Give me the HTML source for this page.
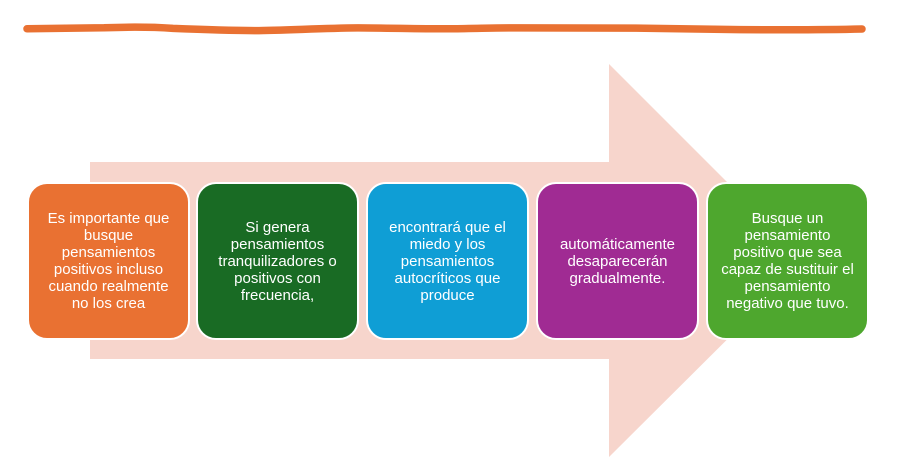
<!DOCTYPE html>
<html>
<head>
<meta charset="utf-8">
<style>
  html, body { margin:0; padding:0; background:#ffffff; }
  body { width:902px; height:466px; position:relative; overflow:hidden; font-family:"Liberation Sans", Arial, sans-serif; }
  svg.bg { position:absolute; left:0; top:0; }
  .box {
    position:absolute; top:182px; width:159px; height:154px;
    border:2px solid #ffffff; border-radius:20px;
    display:flex; align-items:center; justify-content:center;
    text-align:center; color:#ffffff; font-size:15px; line-height:17px;
    box-sizing:content-box;
  }
</style>
</head>
<body>
<svg class="bg" width="902" height="466" viewBox="0 0 902 466">
  <!-- wavy orange line -->
  <path d="M27,28.8 C60,28.5 85,28.2 104,27.8 C125,27 150,26.8 173,28.4 C200,29.5 225,30.5 255,30.6 C285,30.5 320,28.2 358,27.9 C400,28.2 430,28.9 451,28.8 C480,28.5 500,27.6 520,27.9 C560,28.3 600,28 636,28.1 C680,28.6 710,29.4 740,29.6 C790,29.9 830,29.8 862,29" fill="none" stroke="#E97132" stroke-width="7.5" stroke-linecap="round"/>
  <!-- big pink arrow -->
  <polygon points="90,162 609,162 609,64 806,261 609,457 609,359 90,359" fill="#F7D5CC"/>
</svg>

<div class="box" style="left:27px; background:#E97132;">
  <div>Es importante que<br>busque<br>pensamientos<br>positivos incluso<br>cuando realmente<br>no los crea</div>
</div>
<div class="box" style="left:196px; background:#196B24;">
  <div>Si genera<br>pensamientos<br>tranquilizadores o<br>positivos con<br>frecuencia,</div>
</div>
<div class="box" style="left:366px; background:#0F9ED5;">
  <div>encontrará que el<br>miedo y los<br>pensamientos<br>autocríticos que<br>produce</div>
</div>
<div class="box" style="left:536px; background:#A02B93;">
  <div>automáticamente<br>desaparecerán<br>gradualmente.</div>
</div>
<div class="box" style="left:706px; background:#4EA72E;">
  <div>Busque un<br>pensamiento<br>positivo que sea<br>capaz de sustituir el<br>pensamiento<br>negativo que tuvo.</div>
</div>
</body>
</html>
